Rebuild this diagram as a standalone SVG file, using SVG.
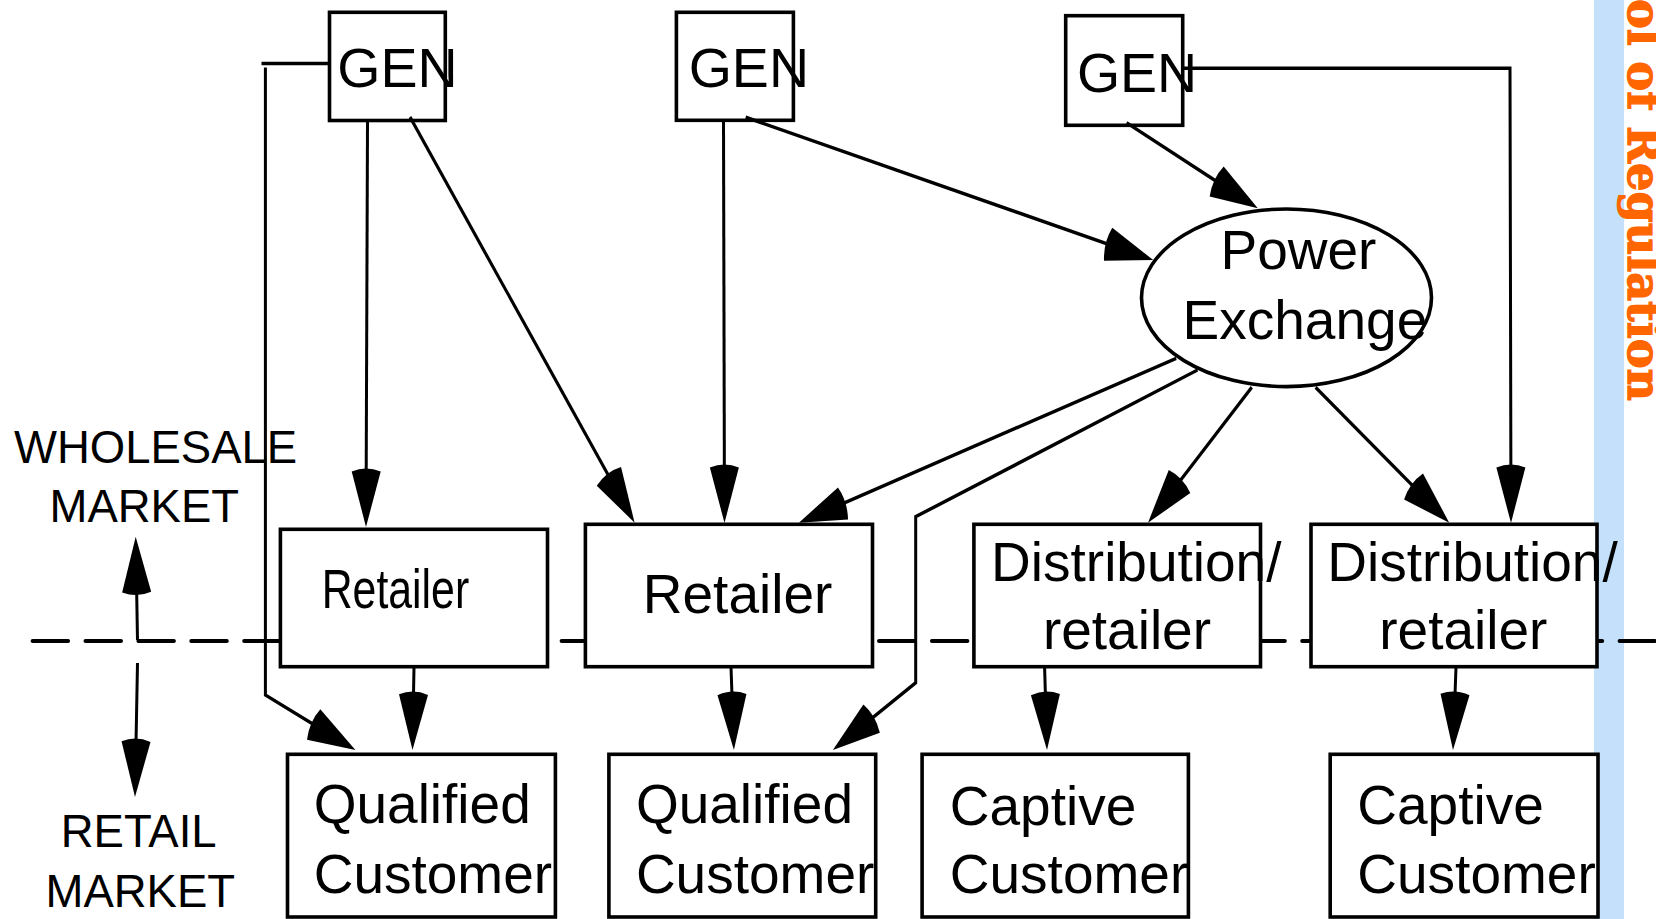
<svg xmlns="http://www.w3.org/2000/svg" width="1656" height="919" viewBox="0 0 1656 919">
  <style>
    .box { fill: #ffffff; stroke: #000000; stroke-width: 3.6; }
    .txt { font-family: "Liberation Sans", Arial, Helvetica, sans-serif; fill: #000000; }
    .conn { fill: none; stroke: #000000; stroke-width: 3; stroke-linejoin: miter; marker-end: url(#arrow); }
    .plain { fill: none; stroke: #000000; stroke-width: 3; }
    .divider { fill: none; stroke: #000000; stroke-width: 4; stroke-linecap: round; stroke-dasharray: 35.5 17.4; }
  </style>
  <defs>
    <marker id="arrow" viewBox="-6 -16 54 32" markerWidth="54" markerHeight="32" refX="37" refY="0" orient="auto" markerUnits="userSpaceOnUse">
      <path d="M47,0 L0,-14.5 Q-5,0 0,14.5 Z" fill="#000000"/>
    </marker>
  </defs>

  <rect width="1656" height="919" fill="#ffffff"/>

  <!-- side band with vertical title -->
  <g id="side-band">
    <rect x="1594" y="0" width="30" height="919" fill="#c5e0fb"/>
    <text transform="translate(1628,-1) rotate(90)" font-family="'DejaVu Serif', 'Liberation Serif', serif" font-weight="bold" font-size="46" fill="#ff6600" stroke="#ff6600" stroke-width="1.3" textLength="402" lengthAdjust="spacingAndGlyphs">ol of Regulation</text>
  </g>

  <!-- wholesale / retail boundary -->
  <g id="boundary">
    <line class="divider" x1="32.6" y1="641" x2="1660" y2="641"/>
  </g>

  <!-- market labels -->
  <g id="label-wholesale" class="txt" font-size="45.5">
    <text x="14" y="462.7">WHOLESALE</text>
    <text x="49.5" y="521.7">MARKET</text>
  </g>
  <g id="label-retail" class="txt" font-size="45.5">
    <text x="60.7" y="846.7">RETAIL</text>
    <text x="45.5" y="906.7">MARKET</text>
  </g>

  <!-- generators -->
  <g id="gen1">
    <rect class="box" x="329.5" y="12.3" width="115.8" height="108.2"/>
    <text class="txt" x="337.3" y="87.3" font-size="55.5">GEN</text>
  </g>
  <g id="gen2">
    <rect class="box" x="676.4" y="12.3" width="117" height="108"/>
    <text class="txt" x="688.7" y="87.3" font-size="55.5">GEN</text>
  </g>
  <g id="gen3">
    <rect class="box" x="1065.7" y="15.7" width="117" height="109.6"/>
    <text class="txt" x="1076.9" y="91.7" font-size="55.5">GEN</text>
  </g>

  <!-- power exchange -->
  <g id="power-exchange">
    <ellipse class="box" cx="1286.5" cy="297.8" rx="145" ry="88.8" stroke-width="3.5"/>
    <text class="txt" x="1220.5" y="269.3" font-size="55">Power</text>
    <text class="txt" x="1182.6" y="339.3" font-size="55">Exchange</text>
  </g>

  <!-- retailers and distribution companies -->
  <g id="retailer1">
    <rect class="box" x="280.4" y="529.3" width="267.1" height="137.4"/>
    <text class="txt" x="321.7" y="608.3" font-size="55" textLength="147.5" lengthAdjust="spacingAndGlyphs">Retailer</text>
  </g>
  <g id="retailer2">
    <rect class="box" x="585.4" y="524.3" width="287.1" height="142.4"/>
    <text class="txt" x="642.8" y="613.3" font-size="55">Retailer</text>
  </g>
  <g id="distribution1">
    <rect class="box" x="973.9" y="524.3" width="286.6" height="142.4"/>
    <text class="txt" x="991.1" y="581" font-size="55">Distribution/</text>
    <text class="txt" x="1042.9" y="649.3" font-size="55">retailer</text>
  </g>
  <g id="distribution2">
    <rect class="box" x="1311" y="524.3" width="286" height="142.4"/>
    <text class="txt" x="1327.3" y="581" font-size="55">Distribution/</text>
    <text class="txt" x="1379.3" y="649.3" font-size="55">retailer</text>
  </g>

  <!-- customers -->
  <g id="qualified1">
    <rect class="box" x="287.5" y="754.3" width="267.9" height="162.7"/>
    <text class="txt" x="313.7" y="822.7" font-size="55">Qualified</text>
    <text class="txt" x="313.7" y="892.7" font-size="55">Customer</text>
  </g>
  <g id="qualified2">
    <rect class="box" x="608.9" y="754.3" width="266.8" height="162.7"/>
    <text class="txt" x="635.9" y="823.3" font-size="55">Qualified</text>
    <text class="txt" x="635.9" y="892.7" font-size="55">Customer</text>
  </g>
  <g id="captive1">
    <rect class="box" x="922.1" y="754.3" width="266.3" height="162.7"/>
    <text class="txt" x="949.8" y="825" font-size="55">Captive</text>
    <text class="txt" x="949.8" y="892.7" font-size="55">Customer</text>
  </g>
  <g id="captive2">
    <rect class="box" x="1330.2" y="754.3" width="267.8" height="162.7"/>
    <text class="txt" x="1357.3" y="824" font-size="55">Captive</text>
    <text class="txt" x="1357.3" y="892.7" font-size="55">Customer</text>
  </g>

  <!-- connectors: drawn in a frame stretched 1.18x vertically, so arrowheads stretch with it -->
  <g id="connectors" transform="scale(1 1.18)">
    <path class="plain" d="M328,53.81 H261.5"/>
    <path class="conn" d="M265.4,57.2 V588.98 L346.52,630.99"/>
    <path class="conn" d="M367.5,103.39 L366.04,436.61"/>
    <path class="conn" d="M410,99.15 L629.13,434.6"/>
    <path class="conn" d="M723.5,103.39 L724.47,433.22"/>
    <path class="conn" d="M745.7,99.41 L1143.61,217.5"/>
    <path class="conn" d="M1126.6,103.98 L1249.05,171.69"/>
    <path class="conn" d="M1183,57.88 H1510 L1510.97,433.22"/>
    <path class="conn" d="M1176.2,303.64 L808.28,439.51"/>
    <path class="conn" d="M1197.5,313.56 L915.7,437.88 V578.56 L841.14,629.92"/>
    <path class="conn" d="M1251.8,328.22 L1154.71,435.55"/>
    <path class="conn" d="M1315.6,328.22 L1441.61,436.45"/>
    <path class="conn" d="M414,565.25 L412.7,625.6"/>
    <path class="conn" d="M731,565.25 L733.49,625.6"/>
    <path class="conn" d="M1044.6,565.25 L1046.66,625.6"/>
    <path class="conn" d="M1456,565.25 L1453.43,625.6"/>
    <g id="market-arrows">
      <path class="conn" d="M137.5,542.37 L135.91,464.83"/>
      <path class="conn" d="M137.5,561.86 L135.22,665.42"/>
    </g>
  </g>
</svg>
